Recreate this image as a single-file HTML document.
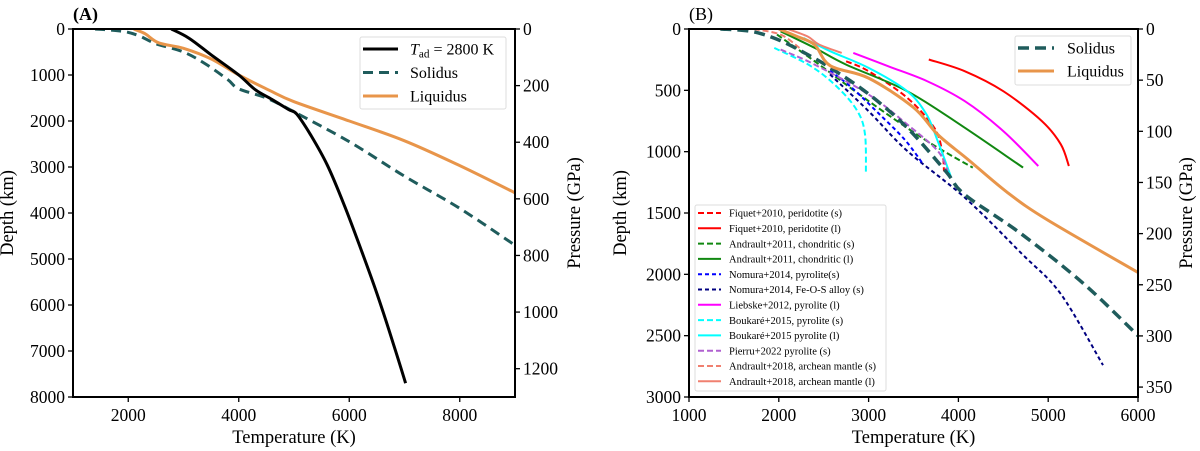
<!DOCTYPE html>
<html><head><meta charset="utf-8">
<style>
body{margin:0;background:#fff;}
svg{display:block;font-family:"Liberation Serif","DejaVu Serif",serif;}
</style></head>
<body>
<svg id="fig" width="1200" height="451" viewBox="0 0 1200 451" xmlns="http://www.w3.org/2000/svg"></svg>
<script>
// ---- Panel A data (temperature K, depth km) ----
const aAdT=[2780,3100,3500,4000,4300,4600,4900,5050,5300,5600,5900,6200,6500,6800,7020];
const aAdD=[0,200,560,1000,1320,1530,1750,1850,2300,2950,3800,4750,5750,6850,7700];
const aSolT=[1400,1900,2200,2500,3000,3400,3800,4000,4500,5000,6000,7000,8000,9000];
const aSolD=[0,50,150,320,500,760,1100,1300,1500,1800,2450,3200,3900,4700];
const aLiqT=[2100,2300,2550,3000,3500,4000,4550,5000,6000,7000,8000,9000];
const aLiqD=[0,100,300,420,650,1000,1330,1580,2000,2430,2970,3560];
const aXTicks=[2000,4000,6000,8000];
const aYTicks=[0,1000,2000,3000,4000,5000,6000,7000,8000];
const aPTicks=[0,200,400,600,800,1000,1200];
// ---- Panel B data ----
const bSolT=[1350,1700,2000,2300,2575,3000,3430,3860,4070,4700,5400,6000];
const bSolD=[0,20,90,200,317,530,805,1160,1350,1670,2080,2500];
const bLiqT=[2000,2200,2400,2575,3000,3500,3770,4100,4550,5000,6000];
const bLiqD=[0,60,130,300,400,640,860,1060,1335,1560,1985];
const fiqSolT=[2750,3000,3430,3730,3820,3840];const fiqSolD=[263,344,561,805,1000,1160];
const fiqLiqT=[3670,4070,4500,4930,5140,5230];const fiqLiqD=[249,344,507,751,940,1117];
const anSolT=[1980,2400,3000,3650,4160];const anSolD=[46,263,588,913,1130];
const anLiqT=[2020,2400,2750,3430,4070,4720];const anLiqD=[19,154,290,507,805,1130];
const noPyrT=[2570,2800,3100,3400,3600];const noPyrD=[340,470,680,900,1095];
const noFeT=[2570,3000,3430,4070,4710,5140,5610];const noFeD=[370,670,994,1374,1835,2160,2740];
const liebT=[2830,3220,3650,4070,4500,4890];const liebD=[195,304,425,588,832,1117];
const bouSolT=[1950,2360,2660,2875,2960,2970];const bouSolD=[154,304,480,669,859,1184];
const bouLiqT=[2275,2575,3000,3430,3645,3770,3920];const bouLiqD=[73,182,317,507,696,913,1211];
const pieT=[2020,2400,3000,3430,3770,3880];const pieD=[168,290,534,778,994,1157];
const an18SolT=[1720,2020,2230];const an18SolD=[0,46,154];
const an18LiqT=[2100,2320,2450,2700];const an18LiqD=[0,60,127,195];
const bXTicks=[1000,2000,3000,4000,5000,6000];
const bYTicks=[0,500,1000,1500,2000,2500,3000];
const bPTicks=[0,50,100,150,200,250,300,350];

const NS="http://www.w3.org/2000/svg";
const svg=document.getElementById('fig');
function mk(tag,attrs,parent){const e=document.createElementNS(NS,tag);for(const k in attrs)e.setAttribute(k,attrs[k]);(parent||svg).appendChild(e);return e;}
function txt(s,attrs,parent){const e=mk('text',attrs,parent);e.textContent=s;return e;}
function smooth(pts){
  let d='M'+pts[0][0].toFixed(1)+' '+pts[0][1].toFixed(1);
  for(let i=0;i<pts.length-1;i++){
    const p0=pts[i-1]||pts[i],p1=pts[i],p2=pts[i+1],p3=pts[i+2]||p2;
    const c1=[p1[0]+(p2[0]-p0[0])/6,p1[1]+(p2[1]-p0[1])/6];
    const c2=[p2[0]-(p3[0]-p1[0])/6,p2[1]-(p3[1]-p1[1])/6];
    d+=' C'+c1.map(v=>v.toFixed(1)).join(' ')+' '+c2.map(v=>v.toFixed(1)).join(' ')+' '+p2[0].toFixed(1)+' '+p2[1].toFixed(1);
  }
  return d;
}

function panel(cfg){
  const g=mk('g',{});
  
  
  const X=v=>cfg.x0+(v-cfg.xmin)/(cfg.xmax-cfg.xmin)*(cfg.x1-cfg.x0);
  const Y=v=>cfg.y0+v/cfg.ymax*(cfg.y1-cfg.y0);
  const P=v=>cfg.y0+v/cfg.pmax*(cfg.y1-cfg.y0);
  const plot=mk('g',{},g);
  
  
  const cp=mk('clipPath',{id:cfg.name+'-clip'},g);
  mk('rect',{x:cfg.x0,y:cfg.y0,width:cfg.x1-cfg.x0,height:cfg.y1-cfg.y0},cp);
  plot.setAttribute('clip-path','url(#'+cfg.name+'-clip)');
  cfg.series.forEach(s=>{
    const pts=s.t.map((t,i)=>[X(t),Y(s.d[i])]);
    const p=mk('path',{d:smooth(pts),fill:'none',stroke:s.c,'stroke-width':s.w,'stroke-dasharray':s.dash||'none','stroke-linejoin':'round'},plot);
    
    
  });
  const fr=mk('rect',{x:cfg.x0,y:cfg.y0,width:cfg.x1-cfg.x0,height:cfg.y1-cfg.y0,fill:'none',stroke:'#000','stroke-width':2},g);
  
  
  cfg.xt.forEach(v=>{
    mk('line',{x1:X(v),x2:X(v),y1:cfg.y1,y2:cfg.y1+5,stroke:'#000','stroke-width':1.3},g);
    const t=txt(v,{x:X(v),y:cfg.y1+24,'text-anchor':'middle','font-size':17.5},g);
    
    
  });
  cfg.yt.forEach(v=>{
    mk('line',{x1:cfg.x0-5,x2:cfg.x0,y1:Y(v),y2:Y(v),stroke:'#000','stroke-width':1.3},g);
    const t=txt(v,{x:cfg.x0-8,y:Y(v)+6,'text-anchor':'end','font-size':17.5},g);
    
    
  });
  cfg.pt.forEach(v=>{
    mk('line',{x1:cfg.x1,x2:cfg.x1+5,y1:P(v),y2:P(v),stroke:'#000','stroke-width':1.3},g);
    const t=txt(v,{x:cfg.x1+8,y:P(v)+6,'text-anchor':'start','font-size':17.5},g);
    
    
  });
  const xl=txt('Temperature (K)',{x:(cfg.x0+cfg.x1)/2,y:cfg.y1+46,'text-anchor':'middle','font-size':18.5},g);
  
  
  const cy=(cfg.y0+cfg.y1)/2;
  const yl=txt('Depth (km)',{x:cfg.ylx,y:cy,'text-anchor':'middle','font-size':18.5,transform:'rotate(-90 '+cfg.ylx+' '+cy+')'},g);
  
  
  const pl=txt('Pressure (GPa)',{x:cfg.plx,y:cy,'text-anchor':'middle','font-size':18.5,transform:'rotate(-90 '+cfg.plx+' '+cy+')'},g);
  
  
  const lab=txt(cfg.label,{x:cfg.x0,y:20,'font-size':18,'font-weight':cfg.bold?'bold':'normal'},g);
  
  
  cfg.legends.forEach(L=>{
    const lg=mk('g',{},g);
    
    
    mk('rect',{x:L.x,y:L.y,width:L.w,height:L.h,fill:'#fff',stroke:'#ddd','stroke-width':1,rx:2},lg);
    L.items.forEach((it,i)=>{
      const yy=L.y+L.first+i*L.step;
      const ln=mk('line',{x1:L.x+L.lx,x2:L.x+L.lx+L.ll,y1:yy,y2:yy,stroke:it.c,'stroke-width':it.w,'stroke-dasharray':it.dash||'none'},lg);
      
      
      const t=txt('',{x:L.x+L.tx,y:yy+L.fs*0.35,'font-size':L.fs},lg);
      
      
      if(it.html){const a=document.createElementNS(NS,'tspan');a.setAttribute('font-style','italic');a.textContent='T';t.appendChild(a);
        const b=document.createElementNS(NS,'tspan');b.setAttribute('font-size',L.fs*0.7);b.setAttribute('dy',3);b.textContent='ad';t.appendChild(b);
        const c=document.createElementNS(NS,'tspan');c.setAttribute('dy',-3);c.textContent=' = 2800 K';t.appendChild(c);}
      else t.textContent=it.l;
    });
  });
}
const TEAL='#1f5c5c',ORG='#e8954a';
panel({name:'panel-a',label:'(A)',bold:true,x0:73,x1:515,y0:29,y1:397,xmin:1000,xmax:9000,ymax:8000,pmax:1300,
  xt:aXTicks,yt:aYTicks,pt:aPTicks,ylx:13,plx:580,
  series:[
    {n:'solidus-line',t:aSolT,d:aSolD,c:TEAL,w:3,dash:'10 6'},
    {n:'liquidus-line',t:aLiqT,d:aLiqD,c:ORG,w:3},
    {n:'adiabat-line',t:aAdT,d:aAdD,c:'#000',w:3}],
  legends:[{name:'legend-a',x:360,y:37,w:146,h:72,first:12,step:23.5,lx:3,ll:35,tx:50,fs:16,items:[
    {html:true,c:'#000',w:3},{l:'Solidus',c:TEAL,w:3,dash:'10 6'},{l:'Liquidus',c:ORG,w:3}]}]
});
panel({name:'panel-b',label:'(B)',bold:false,x0:689,x1:1138,y0:29,y1:397,xmin:1000,xmax:6000,ymax:3000,pmax:359.7,
  xt:bXTicks,yt:bYTicks,pt:bPTicks,ylx:626,plx:1192,
  series:[
    {n:'fiquet-solidus',t:fiqSolT,d:fiqSolD,c:'#ff0000',w:2,dash:'6 3'},
    {n:'fiquet-liquidus',t:fiqLiqT,d:fiqLiqD,c:'#ff0000',w:2},
    {n:'andrault2011-solidus',t:anSolT,d:anSolD,c:'#118811',w:2,dash:'6 3'},
    {n:'andrault2011-liquidus',t:anLiqT,d:anLiqD,c:'#118811',w:2},
    {n:'nomura-fe-o-s',t:noFeT,d:noFeD,c:'#000080',w:2,dash:'4 3'},
    {n:'nomura-pyrolite',t:noPyrT,d:noPyrD,c:'#0000ff',w:2,dash:'4 3'},
    {n:'liebske-liquidus',t:liebT,d:liebD,c:'#ff00ff',w:2},
    {n:'boukare-solidus',t:bouSolT,d:bouSolD,c:'#00ffff',w:2,dash:'6 3'},
    {n:'boukare-liquidus',t:bouLiqT,d:bouLiqD,c:'#00ffff',w:2},
    {n:'pierru-solidus',t:pieT,d:pieD,c:'#b060d0',w:2,dash:'6 3'},
    {n:'andrault2018-solidus',t:an18SolT,d:an18SolD,c:'#f08070',w:2,dash:'6 3'},
    {n:'andrault2018-liquidus',t:an18LiqT,d:an18LiqD,c:'#f08070',w:2},
    {n:'solidus-line',t:bSolT,d:bSolD,c:TEAL,w:3.5,dash:'11 6'},
    {n:'liquidus-line',t:bLiqT,d:bLiqD,c:ORG,w:3}],
  legends:[
    {name:'legend-b-main',x:1015,y:36,w:116,h:49,first:12,step:23,lx:3,ll:36,tx:52,fs:16,items:[
      {l:'Solidus',c:TEAL,w:3.5,dash:'11 6'},{l:'Liquidus',c:ORG,w:3}]},
    {name:'legend-b-studies',x:695,y:205,w:191,h:186,first:8,step:15.3,lx:3,ll:23,tx:34,fs:10.5,items:[
      {l:'Fiquet+2010, peridotite (s)',c:'#ff0000',w:2,dash:'6 3'},
      {l:'Fiquet+2010, peridotite (l)',c:'#ff0000',w:2},
      {l:'Andrault+2011, chondritic (s)',c:'#118811',w:2,dash:'6 3'},
      {l:'Andrault+2011, chondritic (l)',c:'#118811',w:2},
      {l:'Nomura+2014, pyrolite(s)',c:'#0000ff',w:2,dash:'4 3'},
      {l:'Nomura+2014, Fe-O-S alloy (s)',c:'#000080',w:2,dash:'4 3'},
      {l:'Liebske+2012, pyrolite (l)',c:'#ff00ff',w:2},
      {l:'Boukaré+2015, pyrolite (s)',c:'#00ffff',w:2,dash:'6 3'},
      {l:'Boukaré+2015 pyrolite (l)',c:'#00ffff',w:2},
      {l:'Pierru+2022 pyrolite (s)',c:'#b060d0',w:2,dash:'6 3'},
      {l:'Andrault+2018, archean mantle (s)',c:'#f08070',w:2,dash:'6 3'},
      {l:'Andrault+2018, archean mantle (l)',c:'#f08070',w:2}]}]
});
</script>
</body></html>
